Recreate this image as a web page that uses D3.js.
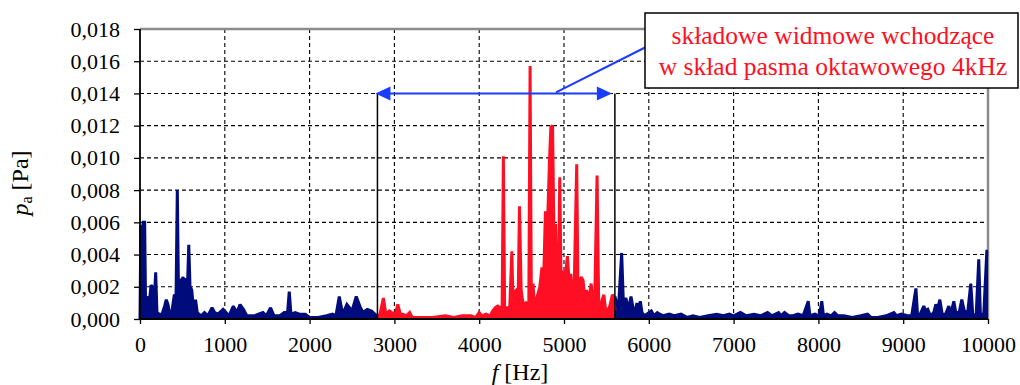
<!DOCTYPE html>
<html>
<head>
<meta charset="utf-8">
<script src="https://cdn.jsdelivr.net/npm/d3@7"></script>
<style>
body { margin: 0; background: #fff; }
text { font-family: "Liberation Serif", "Times New Roman", serif; }
</style>
</head>
<body>
<div id="content"></div>
<script>
// amplitude spectrum p_a(f)
var yTicks = [0, 0.002, 0.004, 0.006, 0.008, 0.010, 0.012, 0.014, 0.016, 0.018];
var xTicks = [0, 1000, 2000, 3000, 4000, 5000, 6000, 7000, 8000, 9000, 10000];
var bandEdges = [2800, 5600];
var arrowLevel = 0.014;
var noteLines = ["składowe widmowe wchodzące", "w skład pasma oktawowego 4kHz"];

// below the octave band [f, pa]
var lowSeries = [
    [0, 0], [10, 0.0058], [25, 0.0056], [40, 0.0060], [55, 0.0060], [65, 0.0012],
    [80, 0.0005], [100, 0.0014], [115, 0.0013], [130, 0.0021], [145, 0.0020], [160, 0.0004],
    [185, 0.0029], [200, 0.0004], [230, 0.0003], [260, 0.0003], [290, 0.0008], [310, 0.0012],
    [330, 0.0009], [350, 0.0003], [380, 0.0006], [405, 0.0015], [425, 0.0014], [440, 0.0080],
    [455, 0.0012], [470, 0.0025], [490, 0.0022], [505, 0.0026], [520, 0.0024], [540, 0.0025],
    [555, 0.0012], [575, 0.0046], [590, 0.0020], [610, 0.0018], [630, 0.0007], [655, 0.0012],
    [675, 0.0004], [720, 0.0002], [760, 0.0004], [800, 0.0002], [850, 0.0007], [880, 0.0004],
    [920, 0.0003], [980, 0.0006], [1050, 0.0002], [1100, 0.0008], [1140, 0.0004], [1180, 0.0009],
    [1220, 0.0006], [1260, 0.0002], [1350, 0.0002], [1450, 0.0004], [1490, 0.0002], [1540, 0.0007],
    [1580, 0.0002], [1650, 0.0002], [1700, 0.0004], [1740, 0.0004], [1760, 0.0017], [1780, 0.0003],
    [1830, 0.0004], [1880, 0.0003], [1950, 0.0003], [2000, 0.0001], [2100, 0.0001], [2200, 0.0002],
    [2270, 0.0003], [2310, 0.0002], [2350, 0.0014], [2390, 0.0003], [2440, 0.0009], [2500, 0.0005],
    [2550, 0.0014], [2600, 0.0007], [2630, 0.0004], [2680, 0.0006], [2730, 0.0005], [2770, 0.0003],
    [2800, 0.0002]
];

// inside the 4 kHz octave band
var bandSeries = [
    [2800, 0.0002], [2830, 0.0003], [2870, 0.0013], [2900, 0.0003], [2940, 0.0005], [2970, 0.0004],
    [3010, 0.0003], [3040, 0.0009], [3070, 0.0003], [3100, 0.0003], [3140, 0.0002], [3180, 0.0004],
    [3210, 0.0001], [3300, 0.0001], [3450, 0.0001], [3600, 0.0002], [3700, 0.0001], [3800, 0.0002],
    [3900, 0.0002], [3960, 0.0001], [4000, 0.0004], [4030, 0.0002], [4080, 0.0003], [4130, 0.0002],
    [4160, 0.0005], [4190, 0.0007], [4220, 0.0008], [4250, 0.0007], [4270, 0.0005], [4285, 0.0101],
    [4300, 0.0006], [4330, 0.0007], [4360, 0.0007], [4385, 0.0042], [4400, 0.0008], [4420, 0.0017],
    [4440, 0.0018], [4460, 0.0016], [4475, 0.0070], [4495, 0.0018], [4510, 0.0012], [4530, 0.0008],
    [4555, 0.0010], [4585, 0.0009], [4600, 0.0157], [4615, 0.0012], [4635, 0.0022], [4650, 0.0009],
    [4670, 0.0012], [4690, 0.0015], [4715, 0.0020], [4740, 0.0032], [4760, 0.0024], [4780, 0.0066],
    [4810, 0.0066], [4830, 0.0100], [4845, 0.0119], [4865, 0.0120], [4880, 0.0058], [4900, 0.0058],
    [4915, 0.0024], [4935, 0.0026], [4950, 0.0088], [4965, 0.0024], [4985, 0.0030], [5000, 0.0016],
    [5015, 0.0026], [5040, 0.0039], [5060, 0.0024], [5080, 0.0028], [5100, 0.0014], [5120, 0.0020],
    [5150, 0.0096], [5165, 0.0018], [5185, 0.0024], [5205, 0.0026], [5225, 0.0024], [5245, 0.0013],
    [5265, 0.0018], [5290, 0.0011], [5320, 0.0022], [5340, 0.0012], [5360, 0.0006], [5390, 0.0089],
    [5410, 0.0006], [5430, 0.0008], [5450, 0.0012], [5470, 0.0015], [5490, 0.0006], [5510, 0.0005],
    [5540, 0.0008], [5570, 0.0015], [5590, 0.0014], [5600, 0.0005]
];

// above the octave band
var highSeries = [
    [5600, 0.0014], [5615, 0.0011], [5640, 0.0005], [5680, 0.0041], [5700, 0.0010], [5730, 0.0013],
    [5760, 0.0006], [5790, 0.0014], [5810, 0.0008], [5840, 0.0004], [5860, 0.0010], [5880, 0.0004],
    [5900, 0.0011], [5920, 0.0004], [5950, 0.0002], [6030, 0.0005], [6060, 0.0002], [6100, 0.0004],
    [6130, 0.0003], [6170, 0.0002], [6240, 0.0003], [6300, 0.0002], [6380, 0.0003], [6450, 0.0001],
    [6520, 0.0002], [6600, 0.0001], [6700, 0.0002], [6800, 0.0003], [6880, 0.0002], [6950, 0.0003],
    [7000, 0.0002], [7080, 0.0004], [7150, 0.0002], [7240, 0.0003], [7320, 0.0002], [7400, 0.0004],
    [7450, 0.0002], [7530, 0.0004], [7560, 0.0002], [7600, 0.0004], [7650, 0.0002], [7700, 0.0002],
    [7760, 0.0003], [7820, 0.0002], [7880, 0.0011], [7900, 0.0002], [7960, 0.0003], [8010, 0.0002],
    [8040, 0.0011], [8060, 0.0002], [8100, 0.0003], [8150, 0.0002], [8190, 0.0004], [8230, 0.0002],
    [8300, 0.0002], [8400, 0.0001], [8500, 0.0002], [8580, 0.0003], [8620, 0.0001], [8700, 0.0001],
    [8800, 0.0002], [8890, 0.0004], [8920, 0.0002], [8980, 0.0003], [9050, 0.0002], [9100, 0.0002],
    [9150, 0.0019], [9170, 0.0002], [9200, 0.0003], [9243, 0.0008], [9265, 0.0005], [9290, 0.0006],
    [9320, 0.0002], [9360, 0.0004], [9385, 0.0009], [9410, 0.0007], [9432, 0.0012], [9460, 0.0003],
    [9500, 0.0003], [9538, 0.0008], [9560, 0.0003], [9597, 0.0011], [9620, 0.0004], [9660, 0.0004],
    [9691, 0.0012], [9720, 0.0005], [9760, 0.0004], [9797, 0.0022], [9820, 0.0003], [9860, 0.0002],
    [9891, 0.0037], [9910, 0.0003], [9950, 0.0003], [9986, 0.0042], [10000, 0.0042]
];

var w = 1020,
    h = 385,
    pl = 140,
    pr = 988,
    pt = 29,
    pb = 319;

var navy = "#000b7c",
    red = "#ff0f24",
    blue = "#1a3cff";

var x = d3.scaleLinear().domain([0, 10000]).range([pl, pr]);
var y = d3.scaleLinear().domain([0, 0.018]).range([pb, pt]);
var fmt = function(d) { return d3.format(".3f")(d).replace(".", ","); };

var svg = d3.select("#content")
    .append("svg")
    .attr("width", w)
    .attr("height", h);

// dashed grid
svg.append("g")
    .selectAll("line")
    .data(yTicks.slice(1, -1))
    .join("line")
    .attr("x1", pl).attr("x2", pr)
    .attr("y1", function(d) { return y(d); })
    .attr("y2", function(d) { return y(d); })
    .attr("stroke", "#000")
    .attr("stroke-width", 1.1)
    .attr("stroke-dasharray", "4,3");

svg.append("g")
    .selectAll("line")
    .data(xTicks.slice(1, -1))
    .join("line")
    .attr("x1", function(d) { return x(d); })
    .attr("x2", function(d) { return x(d); })
    .attr("y1", pt).attr("y2", pb)
    .attr("stroke", "#000")
    .attr("stroke-width", 1.1)
    .attr("stroke-dasharray", "4,3");

// grey frame top and right
svg.append("path")
    .attr("d", "M" + pl + "," + pt + "H" + pr + "V" + pb)
    .attr("fill", "none")
    .attr("stroke", "#8c8c8c")
    .attr("stroke-width", 2.5);

// spectrum
var area = d3.area()
    .x(function(d) { return x(d[0]); })
    .y0(y(0))
    .y1(function(d) { return y(d[1]); });

var line = d3.line()
    .x(function(d) { return x(d[0]); })
    .y(function(d) { return y(d[1]); });

[[lowSeries, navy], [highSeries, navy], [bandSeries, red]].forEach(function(s) {
    svg.append("path")
        .datum(s[0])
        .attr("d", area)
        .attr("fill", s[1]);
    svg.append("path")
        .datum(s[0])
        .attr("d", line)
        .attr("fill", "none")
        .attr("stroke", s[1])
        .attr("stroke-width", 3)
        .attr("stroke-linejoin", "miter")
        .attr("stroke-miterlimit", 2);
});

// axes
var yAxis = d3.axisLeft(y).tickValues(yTicks).tickFormat(fmt).tickSize(6).tickPadding(14);
var xAxis = d3.axisBottom(x).tickValues(xTicks).tickFormat(d3.format("d")).tickSize(5).tickPadding(12);

var gy = svg.append("g").attr("transform", "translate(" + pl + ",0)").call(yAxis);
var gx = svg.append("g").attr("transform", "translate(0," + pb + ")").call(xAxis);

[gy, gx].forEach(function(g) {
    g.select(".domain").attr("stroke", "#000").attr("stroke-width", 1.8);
    g.selectAll(".tick line").attr("stroke", "#000").attr("stroke-width", 1.3);
    g.selectAll("text")
        .attr("fill", "#000")
        .style("font-family", "'Liberation Serif', serif")
        .style("font-size", "22px");
});
gy.select(".domain").attr("d", "M0," + pb + "V" + pt);
gx.select(".domain").attr("d", "M" + pl + ",0H" + pr);

// axis titles
var yt = svg.append("text")
    .attr("transform", "translate(28,183) rotate(-90)")
    .attr("text-anchor", "middle")
    .style("font-size", "24px");
yt.append("tspan").style("font-style", "italic").text("p");
yt.append("tspan").attr("dy", 4).style("font-size", "16px").text("a");
yt.append("tspan").attr("dy", -4).text(" [Pa]");

var xt = svg.append("text")
    .attr("x", 520)
    .attr("y", 380)
    .attr("text-anchor", "middle")
    .style("font-size", "24px");
xt.append("tspan").style("font-style", "italic").text("f");
xt.append("tspan").text(" [Hz]");

// octave band limits
svg.append("g")
    .selectAll("line")
    .data(bandEdges)
    .join("line")
    .attr("x1", function(d) { return x(d); })
    .attr("x2", function(d) { return x(d); })
    .attr("y1", y(arrowLevel))
    .attr("y2", pb)
    .attr("stroke", "#000")
    .attr("stroke-width", 1.5);

// double arrow
var ay = y(arrowLevel);
var ax0 = x(bandEdges[0]) - 2,
    ax1 = x(bandEdges[1]) - 3;
svg.append("line")
    .attr("x1", ax0 + 10).attr("x2", ax1 - 10)
    .attr("y1", ay).attr("y2", ay)
    .attr("stroke", blue)
    .attr("stroke-width", 2);
svg.append("path")
    .attr("d", "M" + ax0 + "," + ay + "L" + (ax0 + 15) + "," + (ay - 7) + "L" + (ax0 + 15) + "," + (ay + 7) + "Z")
    .attr("fill", blue);
svg.append("path")
    .attr("d", "M" + ax1 + "," + ay + "L" + (ax1 - 15) + "," + (ay - 7) + "L" + (ax1 - 15) + "," + (ay + 7) + "Z")
    .attr("fill", blue);

// leader line and note box
svg.append("line")
    .attr("x1", 556).attr("y1", ay - 1)
    .attr("x2", 650).attr("y2", 45)
    .attr("stroke", blue)
    .attr("stroke-width", 2);

svg.append("rect")
    .attr("x", 645).attr("y", 13)
    .attr("width", 373).attr("height", 75)
    .attr("fill", "#fff")
    .attr("stroke", "#000")
    .attr("stroke-width", 1.5);

svg.append("g")
    .selectAll("text")
    .data(noteLines)
    .join("text")
    .attr("x", 833)
    .attr("y", function(d, i) { return 44 + i * 31; })
    .attr("text-anchor", "middle")
    .attr("fill", red)
    .style("font-size", "25.5px")
    .text(function(d) { return d; });
</script>
</body>
</html>
